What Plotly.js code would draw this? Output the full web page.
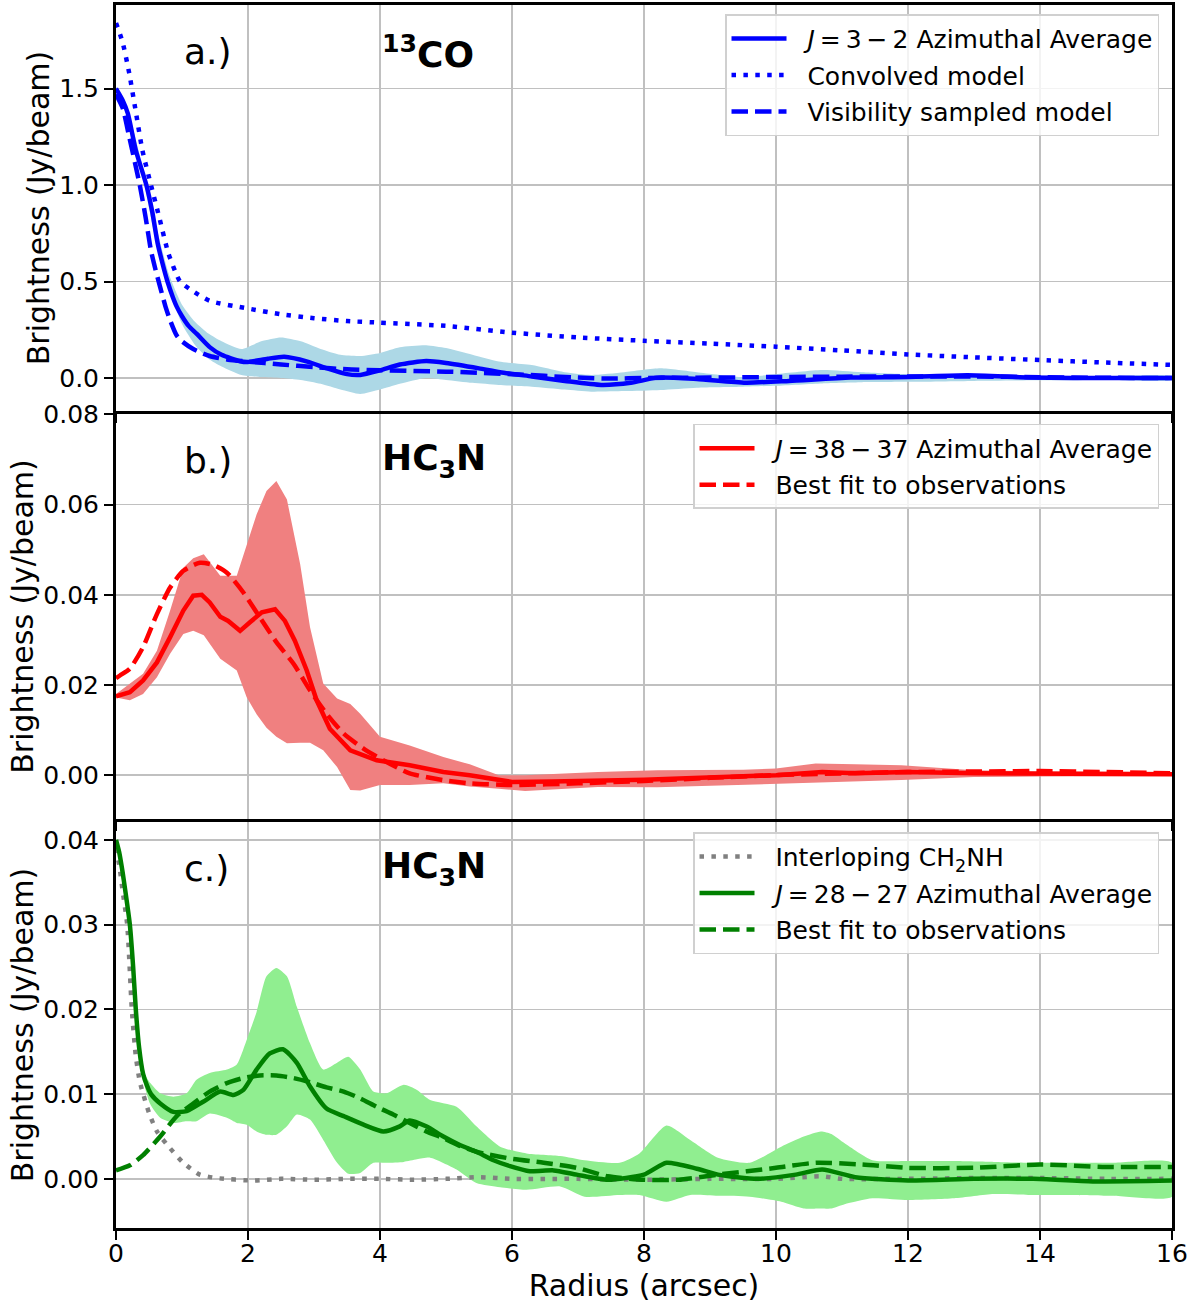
<!DOCTYPE html>
<html>
<head>
<meta charset="utf-8">
<script src="https://cdn.plot.ly/plotly-3.0.1.min.js"></script>
<style>html,body{margin:0;padding:0;background:#fff;}#chart{width:1195px;height:1304px;}</style>
</head>
<body>
<div id="chart"></div>
<script>
// ---------- Panel a: 13CO ----------
const aSolidX = [0,0.1,0.18,0.3,0.46,0.55,0.63,0.7,0.78,0.86,0.92,1.0,1.1,1.22,1.42,1.6,1.88,2.0,2.3,2.55,2.9,3.2,3.5,3.7,4.0,4.3,4.7,5.0,5.5,5.82,6.3,6.8,7.35,7.8,8.2,8.8,9.54,10.2,11.13,12.0,12.9,13.8,14.5,15.2,16];
const aSolidY = [1.50,1.44,1.37,1.18,1.0,0.86,0.70,0.60,0.50,0.42,0.37,0.32,0.27,0.23,0.16,0.12,0.087,0.083,0.10,0.11,0.085,0.05,0.02,0.016,0.04,0.07,0.088,0.078,0.05,0.03,0.008,-0.015,-0.036,-0.025,0.002,-0.005,-0.024,-0.015,0.002,0.005,0.014,0.003,0.0,0.0,0.0];
const aDotX = [0,0.1,0.2,0.3,0.4,0.53,0.65,0.79,0.9,0.97,1.12,1.42,2.0,2.5,3.0,3.5,4.0,5.0,6.0,7.0,8.0,9.0,10.0,11.0,12.0,13.0,14.0,15.0,16];
const aDotY = [1.84,1.74,1.58,1.38,1.18,1.0,0.84,0.65,0.55,0.50,0.46,0.40,0.36,0.33,0.31,0.295,0.287,0.27,0.235,0.21,0.193,0.178,0.162,0.143,0.122,0.107,0.093,0.08,0.068];
const aDashX = [0,0.1,0.2,0.36,0.45,0.53,0.6,0.67,0.75,0.83,0.92,1.0,1.17,1.42,1.7,2.0,2.5,3.0,3.5,4.0,5.0,6.0,7.0,7.5,8.0,9.0,10.0,11.0,12.0,13.0,14.0,15.0,16];
const aDashY = [1.47,1.40,1.25,1.0,0.83,0.66,0.56,0.47,0.37,0.29,0.22,0.19,0.15,0.114,0.095,0.085,0.07,0.057,0.045,0.04,0.033,0.02,0.002,-0.003,0.0,0.002,0.005,0.007,0.008,0.008,0.004,0.001,0.0];
const aBandX = [0,0.2,0.4,0.6,0.8,1.0,1.2,1.4,1.6,1.9,2.2,2.5,2.8,3.1,3.4,3.7,4.0,4.3,4.7,5.0,5.4,5.8,6.3,6.8,7.2,7.7,8.25,8.8,9.5,10.0,10.7,11.3,12,13,14,15,16];
const aBandHi = [1.51,1.36,1.10,0.80,0.54,0.38,0.29,0.23,0.19,0.15,0.19,0.21,0.19,0.15,0.12,0.114,0.13,0.16,0.17,0.155,0.12,0.085,0.067,0.03,0.016,0.03,0.05,0.03,0.005,0.02,0.041,0.03,0.02,0.02,0.012,0.01,0.01];
const aBandLo = [1.49,1.33,1.05,0.72,0.47,0.28,0.17,0.10,0.06,0.016,0.005,0.0,-0.01,-0.03,-0.06,-0.083,-0.06,-0.03,0.0,-0.01,-0.025,-0.036,-0.045,-0.06,-0.071,-0.068,-0.062,-0.05,-0.045,-0.04,-0.028,-0.022,-0.02,-0.015,-0.012,-0.01,-0.01];

// ---------- Panel b: HC3N J=38-37 ----------
const bSolidX = [0,0.21,0.41,0.62,0.82,1.02,1.17,1.3,1.42,1.58,1.7,1.88,2.03,2.21,2.41,2.56,2.71,2.89,3.04,3.24,3.55,3.95,4.45,4.96,5.36,6.0,6.6,8.0,10.0,10.7,11.2,12.0,13.0,14.0,15.0,16];
const bSolidY = [0.0175,0.0184,0.021,0.025,0.0306,0.0365,0.0398,0.0400,0.0383,0.0351,0.0342,0.032,0.0339,0.0361,0.0368,0.0342,0.0298,0.0232,0.0166,0.0103,0.0055,0.0033,0.0022,0.0007,0.0,-0.0015,-0.0014,-0.001,0.0,0.0007,0.0004,0.0007,0.0004,0.0003,0.0002,0.0002];
const bDashX = [0,0.06,0.21,0.41,0.62,0.82,1.02,1.27,1.48,1.68,1.93,2.18,2.43,2.69,2.94,3.19,3.45,3.75,4.05,4.45,4.96,5.36,6.0,7.0,8.0,9.0,10.0,11.0,12.0,13.0,14.0,15.0,16];
const bDashY = [0.0215,0.0221,0.0236,0.0284,0.0357,0.0416,0.0453,0.0471,0.0466,0.0449,0.0405,0.035,0.0295,0.0247,0.0188,0.0136,0.0092,0.0059,0.0033,0.0004,-0.0011,-0.0018,-0.0022,-0.0018,-0.0013,-0.0006,0.0,0.0004,0.0007,0.0008,0.0009,0.0007,0.0004];
const bBandX = [0,0.21,0.41,0.62,0.82,1.02,1.17,1.33,1.58,1.83,1.98,2.13,2.28,2.43,2.59,2.79,2.94,3.14,3.35,3.55,3.7,4.0,4.45,4.96,5.36,5.8,6.2,7.3,8.2,8.5,9.5,10.0,10.6,11.2,11.9,13.0,14.0,16];
const bBandHi = [0.018,0.0203,0.0225,0.0276,0.0365,0.046,0.0481,0.049,0.0442,0.0442,0.0512,0.0578,0.063,0.0652,0.0611,0.0468,0.0328,0.0203,0.017,0.0158,0.0136,0.0085,0.0066,0.004,0.0024,0.0,0.0,0.0007,0.0011,0.0011,0.0012,0.0015,0.0026,0.0024,0.0022,0.0011,0.0008,0.0007];
const bBandLo = [0.0172,0.0166,0.018,0.0217,0.0269,0.0313,0.032,0.031,0.0258,0.0232,0.0173,0.0135,0.0105,0.0085,0.0071,0.0072,0.0072,0.0055,0.0018,-0.0033,-0.0034,-0.0022,-0.0022,-0.0018,-0.0025,-0.003,-0.0035,-0.0026,-0.0027,-0.0025,-0.0022,-0.002,-0.0017,-0.0014,-0.0011,-0.0004,-0.0003,-0.0002];

// ---------- Panel c: HC3N J=28-27 ----------
const cSolidX = [0,0.05,0.1,0.15,0.21,0.26,0.3,0.35,0.41,0.47,0.53,0.67,0.87,1.07,1.32,1.58,1.78,1.93,2.13,2.33,2.53,2.74,2.94,3.19,3.45,3.75,4.05,4.3,4.45,4.7,4.96,5.21,5.46,5.72,5.97,6.27,6.63,6.98,7.45,8.0,8.34,8.8,9.12,9.72,10.3,10.7,11.2,12.0,13.0,13.9,14.8,16];
const cSolidY = [0.0400,0.0385,0.0362,0.0335,0.030,0.025,0.020,0.0155,0.0124,0.011,0.0100,0.0089,0.0079,0.008,0.0091,0.0103,0.0099,0.0105,0.0129,0.0148,0.0153,0.0137,0.0109,0.0083,0.0074,0.0064,0.0056,0.0062,0.0069,0.0062,0.005,0.004,0.0032,0.0022,0.0015,0.0009,0.001,0.0005,-0.0001,0.0005,0.0019,0.0012,0.0005,0.0,0.0005,0.0011,0.0002,-0.0002,0.0,0.0,-0.0003,-0.0002];
const cDashX = [0,0.21,0.41,0.67,0.92,1.17,1.42,1.68,1.93,2.18,2.43,2.69,2.94,3.19,3.45,3.7,3.95,4.2,4.45,4.7,4.96,5.21,5.46,5.97,6.48,6.98,7.45,8.0,8.52,9.12,10.0,10.6,11.3,12.0,13.0,14.0,15.0,16];
const cDashY = [0.001,0.0016,0.0028,0.005,0.0074,0.0089,0.0103,0.0113,0.0119,0.0122,0.0122,0.0119,0.0114,0.0108,0.0103,0.0095,0.0085,0.0076,0.0066,0.0056,0.0048,0.0039,0.0032,0.0024,0.0019,0.0013,0.0003,-0.0001,-0.0001,0.0005,0.0013,0.0019,0.0017,0.0013,0.0013,0.0017,0.0014,0.0014];
const cIntX = [0,0.05,0.1,0.17,0.24,0.3,0.36,0.42,0.5,0.62,0.82,1.02,1.27,1.52,2.08,2.5,3.0,3.5,4.0,4.5,5.0,5.5,6.0,7.0,8.0,9.0,10.0,10.7,11.0,12.0,13.0,14.0,15.0,16];
const cIntY = [0.039,0.037,0.034,0.030,0.020,0.0145,0.0115,0.0098,0.0078,0.0056,0.0036,0.0019,0.0005,0.0001,-0.0002,0.0,-0.0001,0.0,0.0,-0.0001,0.0,0.0002,0.0,0.0,-0.0001,0.0,0.0,0.0003,0.0,0.0,0.0001,0.0001,0.0,0.0];
const cBandX = [0,0.2,0.41,0.52,0.67,0.87,1.07,1.22,1.42,1.68,1.83,1.98,2.13,2.28,2.43,2.59,2.74,2.94,3.14,3.35,3.52,3.7,3.9,4.1,4.36,4.56,4.76,5.16,5.46,5.82,6.22,6.73,7.1,7.63,7.93,8.34,8.7,9.12,9.6,10.08,10.42,10.68,10.84,11.04,11.46,12.0,12.7,13.3,13.9,14.5,15.1,16];
const cBandHi = [0.0402,0.0315,0.0128,0.0113,0.0101,0.0097,0.0101,0.0117,0.0125,0.0129,0.0135,0.0164,0.0197,0.0239,0.0249,0.0239,0.0203,0.016,0.0129,0.0137,0.0144,0.0129,0.0103,0.0101,0.0111,0.0105,0.0093,0.0085,0.0062,0.0038,0.003,0.0027,0.0022,0.0019,0.003,0.0063,0.0046,0.0025,0.0019,0.0038,0.005,0.0056,0.0053,0.0042,0.0022,0.0021,0.0021,0.002,0.0019,0.0019,0.0019,0.0019];
const cBandLo = [0.0398,0.0295,0.0118,0.0088,0.0072,0.0066,0.0068,0.0068,0.0077,0.0072,0.0066,0.0064,0.0056,0.0052,0.0052,0.0062,0.0076,0.007,0.0046,0.0019,0.0006,0.0007,0.0019,0.0019,0.002,0.0023,0.0025,0.0011,-0.0005,-0.001,-0.0013,-0.0009,-0.0021,-0.0019,-0.0019,-0.0027,-0.0019,-0.002,-0.0021,-0.0027,-0.0035,-0.0035,-0.0035,-0.003,-0.0023,-0.0025,-0.0023,-0.0018,-0.0019,-0.0019,-0.002,-0.0021];

const xTicks = [0,2,4,6,8,10,12,14,16];

// ---------- styling ----------
const FONT = 'DejaVu Sans, Verdana, sans-serif';
const LW = 4.5;
const DASH = '16.5px,7px';
const DOT = '4.5px,7.4px';
const GAP = '\u00a0\u00a0';
const TS = '\u2009';

function band(x, hi, lo, color, xa, ya, shape) {
  return {
    x: x.concat(x.slice().reverse()),
    y: hi.concat(lo.slice().reverse()),
    fill: 'toself', fillcolor: color, line: {width: 0, shape: shape, smoothing: 0.6}, mode: 'lines',
    showlegend: false, hoverinfo: 'skip', xaxis: xa, yaxis: ya
  };
}
function line(x, y, color, dash, name, xa, ya, leg, grp, shape) {
  return {
    x: x, y: y, mode: 'lines', name: GAP + name,
    line: {color: color, width: LW, dash: dash, shape: shape, smoothing: 0.6},
    xaxis: xa, yaxis: ya, legend: leg, legendgroup: grp
  };
}
const jLabel = (a, b) => '<i>J</i>' + TS + '=' + TS + a + TS + '−' + TS + b + ' Azimuthal Average';

const traces = [
  band(aBandX, aBandHi, aBandLo, '#add8e6', 'x', 'y', 'spline'),
  line(aSolidX, aSolidY, '#0000ff', 'solid', jLabel(3, 2), 'x', 'y', 'legend', 'a1', 'spline'),
  line(aDotX, aDotY, '#0000ff', DOT, 'Convolved model', 'x', 'y', 'legend', 'a2', 'spline'),
  line(aDashX, aDashY, '#0000ff', DASH, 'Visibility sampled model', 'x', 'y', 'legend', 'a3', 'spline'),

  band(bBandX, bBandHi, bBandLo, '#f08080', 'x2', 'y2', 'linear'),
  line(bSolidX, bSolidY, '#ff0000', 'solid', jLabel(38, 37), 'x2', 'y2', 'legend2', 'b1', 'linear'),
  line(bDashX, bDashY, '#ff0000', DASH, 'Best fit to observations', 'x2', 'y2', 'legend2', 'b2', 'spline'),

  band(cBandX, cBandHi, cBandLo, '#90ee90', 'x3', 'y3', 'spline'),
  line(cIntX, cIntY, '#808080', DOT, 'Interloping CH<sub>2</sub>NH', 'x3', 'y3', 'legend3', 'c1', 'spline'),
  line(cSolidX, cSolidY, '#008000', 'solid', jLabel(28, 27), 'x3', 'y3', 'legend3', 'c2', 'spline'),
  line(cDashX, cDashY, '#008000', DASH, 'Best fit to observations', 'x3', 'y3', 'legend3', 'c3', 'spline')
];

const H = 1223; // plot area height in px (5..1228)
const dom = (top, bot) => [(1228 - bot) / H, (1228 - top) / H];

function xax(anchor, labels) {
  return {
    anchor: anchor, domain: [0, 1], range: [0, 16],
    tickvals: xTicks, ticktext: xTicks.map(String), showticklabels: labels,
    ticks: 'outside', ticklen: 9, tickwidth: 2, tickcolor: '#000',
    showgrid: true, gridcolor: '#c0c0c0', gridwidth: 1.8,
    showline: true, linecolor: '#000', linewidth: 3, mirror: true,
    zeroline: false, tickfont: {size: 25, color: '#000', family: FONT}
  };
}
function yax(anchor, domain, range, ticks, fmt) {
  return {
    anchor: anchor, domain: domain, range: range,
    tickvals: ticks, ticktext: ticks.map(v => v.toFixed(fmt)),
    ticks: 'outside', ticklen: 9, tickwidth: 2, tickcolor: '#000',
    showgrid: true, gridcolor: '#c0c0c0', gridwidth: 1.8,
    showline: true, linecolor: '#000', linewidth: 3, mirror: true,
    zeroline: false, tickfont: {size: 25, color: '#000', family: FONT},
    title: {text: 'Brightness (Jy/beam)', font: {size: 30, color: '#000', family: FONT}, standoff: 1},
    automargin: false
  };
}

function legendCfg(top) {
  return {
    x: 0.9877, xanchor: 'right', y: top, yanchor: 'top',
    bgcolor: 'rgba(255,255,255,0.8)', bordercolor: '#d0d0d0', borderwidth: 1.5,
    font: {size: 25, color: '#000', family: FONT},
    itemwidth: 55, tracegroupgap: 1, traceorder: 'grouped'
  };
}

const layout = {
  width: 1195, height: 1304,
  margin: {l: 116, r: 23, t: 5, b: 76},
  paper_bgcolor: '#fff', plot_bgcolor: '#fff',
  font: {family: FONT, color: '#000'},
  showlegend: true,
  xaxis: xax('y', false),
  xaxis2: xax('y2', false),
  xaxis3: Object.assign(xax('y3', true), {ticklabelstandoff: -8, title: {text: 'Radius (arcsec)', font: {size: 30, color: '#000', family: FONT}, standoff: 2}}),
  yaxis: yax('x', dom(5, 411), [-0.171, 1.933], [0, 0.5, 1.0, 1.5], 1),
  yaxis2: yax('x2', dom(414, 819), [-0.00972, 0.08008], [0, 0.02, 0.04, 0.06, 0.08], 2),
  yaxis3: yax('x3', dom(822, 1228), [-0.0058, 0.04212], [0, 0.01, 0.02, 0.03, 0.04], 2),
  legend: legendCfg(0.9925),
  legend2: legendCfg(0.6575),
  legend3: legendCfg(0.3235),
  annotations: [
    {text: 'a.)', x: 1, xref: 'x', y: 0.885, yref: 'y domain', xanchor: 'left', yanchor: 'middle', showarrow: false, font: {size: 36, family: FONT, color: '#000'}},
    {text: '<b><sup>13</sup>CO</b>', x: 4, xref: 'x', y: 0.885, yref: 'y domain', xanchor: 'left', yanchor: 'middle', showarrow: false, font: {size: 36, family: FONT, color: '#000'}},
    {text: 'b.)', x: 1, xref: 'x2', y: 0.885, yref: 'y2 domain', xanchor: 'left', yanchor: 'middle', showarrow: false, font: {size: 36, family: FONT, color: '#000'}},
    {text: '<b>HC<sub>3</sub>N</b>', x: 4, xref: 'x2', y: 0.885, yref: 'y2 domain', xanchor: 'left', yanchor: 'middle', showarrow: false, font: {size: 36, family: FONT, color: '#000'}},
    {text: 'c.)', x: 1, xref: 'x3', y: 0.885, yref: 'y3 domain', xanchor: 'left', yanchor: 'middle', showarrow: false, font: {size: 36, family: FONT, color: '#000'}},
    {text: '<b>HC<sub>3</sub>N</b>', x: 4, xref: 'x3', y: 0.885, yref: 'y3 domain', xanchor: 'left', yanchor: 'middle', showarrow: false, font: {size: 36, family: FONT, color: '#000'}}
  ]
};

Plotly.newPlot('chart', traces, layout, {displayModeBar: false, staticPlot: true});
</script>
</body>
</html>
